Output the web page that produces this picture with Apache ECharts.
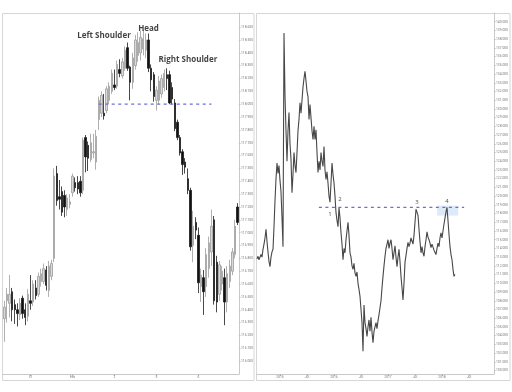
<!DOCTYPE html>
<html><head><meta charset="utf-8">
<script src="https://cdn.jsdelivr.net/npm/echarts@6/dist/echarts.min.js"></script>
<style>html,body{margin:0;padding:0;background:#fff}#c{width:512px;height:392px}</style>
</head><body><div id="c"></div>
<script>
// ---------- Left panel: intraday candles (head & shoulders) ----------
const candleOpen = [116.33,116.47,116.45,116.54,116.44,116.40,116.36,116.49,116.40,116.35,
  116.47,116.46,116.57,116.52,116.62,116.62,116.71,116.55,116.66,116.80,
  117.46,117.28,117.32,117.29,117.18,117.22,117.31,117.39,117.39,117.40,
  117.33,117.74,117.68,117.57,117.62,117.55,117.88,117.93,117.93,117.95,
  118.03,118.10,118.15,118.14,118.27,118.22,118.28,118.44,118.29,118.17,
  118.30,118.38,118.40,118.43,118.42,118.50,118.28,118.23,118.03,118.03,
  118.08,118.13,118.23,118.23,118.13,118.01,117.86,117.74,117.63,117.55,
  117.42,117.33,116.90,117.08,116.98,116.58,116.65,116.58,116.72,116.85,
  117.10,116.77,116.52,116.60,116.65,116.46,116.62,116.70,116.83,117.20];
const candleHigh = [116.47,116.57,116.67,116.57,116.48,116.45,116.49,116.51,116.45,116.56,
  116.67,116.63,116.63,116.69,116.72,116.76,116.74,116.78,116.79,117.50,
  117.52,117.41,117.36,117.33,117.30,117.30,117.46,117.43,117.44,117.44,
  117.74,117.76,117.71,117.77,117.77,117.80,118.06,118.10,118.08,118.14,
  118.17,118.27,118.27,118.34,118.35,118.36,118.45,118.48,118.30,118.40,
  118.54,118.56,118.57,118.58,118.55,118.55,118.31,118.25,118.14,118.22,
  118.23,118.27,118.28,118.26,118.17,118.04,117.88,117.76,117.65,117.58,
  117.50,117.35,117.17,117.12,117.04,116.72,116.71,116.88,116.97,117.18,
  117.13,116.82,116.78,116.74,116.72,116.74,116.79,116.88,117.10,117.23];
const candleLow = [116.15,116.30,116.34,116.31,116.29,116.27,116.32,116.33,116.28,116.31,
  116.40,116.43,116.48,116.50,116.58,116.60,116.55,116.50,116.63,116.77,
  117.21,117.18,117.13,117.12,117.13,117.19,117.28,117.32,117.30,117.28,
  117.30,117.47,117.48,117.55,117.58,117.49,117.80,117.90,117.88,117.93,
  118.00,118.08,118.11,118.12,118.21,118.20,118.26,118.26,118.03,118.12,
  118.27,118.33,118.34,118.38,118.36,118.25,118.10,118.02,117.95,118.00,
  118.05,118.10,118.11,118.00,118.00,117.79,117.72,117.60,117.45,117.46,
  117.30,116.86,116.77,116.95,116.53,116.46,116.36,116.50,116.65,116.74,
  116.44,116.38,116.47,116.55,116.28,116.38,116.57,116.67,116.80,117.06];
const candleClose = [116.42,116.52,116.52,116.40,116.40,116.37,116.45,116.37,116.34,116.52,
  116.45,116.60,116.51,116.66,116.68,116.72,116.59,116.74,116.76,117.44,
  117.25,117.26,117.16,117.20,117.27,117.24,117.44,117.35,117.34,117.31,
  117.72,117.59,117.58,117.70,117.63,117.75,118.03,118.07,117.91,118.12,
  118.14,118.24,118.13,118.31,118.24,118.33,118.42,118.28,118.17,118.36,
  118.50,118.48,118.52,118.51,118.50,118.28,118.19,118.06,118.11,118.18,
  118.20,118.24,118.20,118.01,118.04,117.81,117.74,117.62,117.53,117.51,
  117.33,116.89,117.05,117.02,116.61,116.67,116.54,116.83,116.92,117.05,
  116.47,116.46,116.75,116.70,116.46,116.68,116.74,116.85,117.05,117.08];
const sessionLabels = ['31', 'Feb', '2', '5', '6'];
const sessionLabelIndex = [10, 26, 42, 58, 74];
const leftPriceTicks = [116.0,116.1,116.2,116.3,116.4,116.5,116.6,116.7,116.8,116.9,
  117.0,117.1,117.2,117.3,117.4,117.5,117.6,117.7,117.8,117.9,118.0,118.1,118.2,118.3,118.4,118.5,118.6];
const neckline = 118.0, necklineFrom = 36, necklineTo = 79;
const patternNames = ['Left Shoulder', 'Head', 'Right Shoulder'];
const patternIndex = [38, 55, 70];
const patternPrice = [118.53, 118.585, 118.35];
const lastQuote = 117.084, quoteTimer = '01:26';

// ---------- Right panel: multi-year daily line ----------
const fxStartYear = 2014.574, fxStepYears = 1 / 54;
const fxRates = [112.8,113.1,112.7,112.6,113.3,113.0,113.9,114.5,115.2,116.2,
  114.8,113.6,112.5,111.9,113.0,113.6,113.9,116.5,119.5,122.0,
  123.8,122.6,123.5,121.8,120.5,117.5,114.2,138.7,131.5,127.5,
  124.0,127.5,129.6,126.0,124.2,120.4,122.5,125.0,123.5,122.7,
  125.0,127.5,128.8,130.7,129.5,131.0,132.5,133.5,134.3,133.2,
  132.0,131.4,128.8,130.5,129.0,127.5,126.5,128.0,126.5,127.6,
  125.0,122.7,124.0,123.0,125.0,124.0,123.4,125.7,123.0,121.9,
  122.8,121.5,120.0,119.3,121.5,123.8,122.5,121.5,120.0,118.1,
  117.2,116.5,118.7,117.5,115.8,114.5,112.7,114.0,113.5,115.0,
  116.0,117.0,115.5,113.5,113.0,112.0,111.6,112.3,111.2,110.8,
  111.3,110.0,109.3,108.5,107.0,105.5,102.2,107.5,105.5,104.8,
  103.9,105.0,105.8,104.5,106.1,104.4,103.2,104.5,105.0,105.5,
  104.8,105.7,106.4,106.2,108.0,109.5,110.8,112.0,113.1,114.0,
  114.5,115.0,114.0,114.6,115.0,114.0,112.7,113.5,114.3,113.0,
  111.9,113.0,113.9,112.5,110.8,109.5,108.1,110.0,112.4,113.2,
  114.0,114.7,114.2,114.6,115.2,115.0,114.5,115.5,117.0,118.5,
  118.7,117.8,116.2,114.8,113.5,114.2,113.5,113.1,114.2,115.0,
  115.9,115.3,115.0,114.6,114.1,114.5,114.3,113.8,113.6,113.3,
  114.0,114.6,114.2,115.2,115.8,115.2,116.0,116.8,117.5,118.2,
  118.7,117.2,115.6,114.2,113.3,112.7,111.6,110.8,111.0];
const fxYearTicks = [2015, 2015.5, 2016, 2016.5, 2017, 2017.5, 2018, 2018.5];
const rightPriceTicks = [100,101,102,103,104,105,106,107,108,109,110,111,112,113,114,115,116,117,118,119,
  120,121,122,123,124,125,126,127,128,129,130,131,132,133,134,135,136,137,138,139,140];
const fxResistance = 118.7, fxResFrom = 2015.72, fxResTo = 2018.41;
const touchLabels = ['1', '2', '3', '4'];
const touchYears = [2015.926, 2016.111, 2017.537, 2018.093];
const touchRates = [117.88, 119.6, 119.26, 119.37];
const zoneYears = [2017.91, 2018.30];
const zoneRates = [118.91, 117.77];
const fxLastQuote = 111.0;

// ---------- build ----------
const candleCats = candleOpen.map((_, i) => 'c' + i);
const labelAt = {};
sessionLabelIndex.forEach((idx, k) => { labelAt[idx] = sessionLabels[k]; });
const candleData = candleOpen.map((o, i) => [o, candleClose[i], candleLow[i], candleHigh[i]]);
const fxData = fxRates.map((v, i) => [fxStartYear + i * fxStepYears, v]);

const tickFont = { fontSize: 3.3, color: '#777', fontFamily: 'Roboto' };
const axisCol = '#c9c9c9';
const dashColor = '#6c6cdc';

const chart = echarts.init(document.getElementById('c'), null, { renderer: 'canvas' });
chart.setOption({
  animation: false,
  backgroundColor: '#ffffff',
  graphic: [
    { type: 'rect', shape: { x: 2.5, y: 13.5, width: 251.5, height: 367 }, style: { fill: 'none', stroke: '#d6d6d6', lineWidth: 1 }, silent: true },
    { type: 'rect', shape: { x: 256.5, y: 13.5, width: 253.5, height: 367 }, style: { fill: 'none', stroke: '#d6d6d6', lineWidth: 1 }, silent: true }
  ],
  grid: [
    { left: 3, top: 13, width: 236, height: 361 },
    { left: 257, top: 13, width: 237, height: 361 }
  ],
  xAxis: [
    {
      type: 'category', gridIndex: 0, data: candleCats, boundaryGap: true,
      axisLine: { lineStyle: { color: axisCol } },
      axisTick: { show: true, alignWithLabel: true, length: 2, interval: (i) => labelAt[i] !== undefined, lineStyle: { color: '#bbb' } },
      axisLabel: Object.assign({ interval: (i) => labelAt[i] !== undefined, formatter: (v, i) => labelAt[i] || '', margin: 2 }, tickFont),
      splitLine: { show: false }
    },
    {
      type: 'value', gridIndex: 1, min: fxStartYear, max: fxStartYear + 237 / 54,
      axisLine: { lineStyle: { color: axisCol } },
      axisTick: { show: true, length: 2, customValues: fxYearTicks, lineStyle: { color: '#bbb' } },
      axisLabel: Object.assign({ customValues: fxYearTicks, formatter: (v) => Number.isInteger(v) ? String(v) : 'Jul', margin: 2 }, tickFont),
      splitLine: { show: false }
    }
  ],
  yAxis: [
    {
      type: 'value', gridIndex: 0, position: 'right', min: 115.9, max: 118.71, scale: true,
      axisLine: { show: true, lineStyle: { color: axisCol } },
      axisTick: { show: true, length: 1.5, customValues: leftPriceTicks, lineStyle: { color: '#bbb' } },
      axisLabel: Object.assign({ customValues: leftPriceTicks, formatter: (v) => v.toFixed(3), margin: 2 }, tickFont),
      splitLine: { show: false }
    },
    {
      type: 'value', gridIndex: 1, position: 'right', min: 99.6, max: 141.0, scale: true,
      axisLine: { show: true, lineStyle: { color: axisCol } },
      axisTick: { show: true, length: 1.5, customValues: rightPriceTicks, lineStyle: { color: '#bbb' } },
      axisLabel: Object.assign({ customValues: rightPriceTicks, formatter: (v) => v.toFixed(3), margin: 2 }, tickFont),
      splitLine: { show: false }
    }
  ],
  series: [
    {
      type: 'candlestick', xAxisIndex: 0, yAxisIndex: 0, data: candleData, barWidth: 1.9,
      itemStyle: { color: '#d9d9d9', borderColor: '#9c9c9c', color0: '#111111', borderColor0: '#1a1a1a', borderWidth: 0.8 },
      markLine: {
        silent: true, symbol: ['none', 'none'],
        data: [
          { yAxis: lastQuote, lineStyle: { opacity: 0, width: 0 },
            label: { show: true, position: 'end', distance: 0.5, formatter: '{p|' + lastQuote.toFixed(3) + '}\n{t|' + quoteTimer + '}',
              rich: { p: { backgroundColor: '#111', color: '#fff', fontSize: 3.3, padding: [0.8, 1.2], fontFamily: 'Roboto' },
                      t: { backgroundColor: '#111', color: '#fff', fontSize: 3.3, padding: [0.8, 1.2], fontFamily: 'Roboto', align: 'right' } } } }
        ]
      }
    },
    {
      type: 'line', xAxisIndex: 0, yAxisIndex: 0, silent: true, showSymbol: false, symbol: 'none',
      data: [[necklineFrom, neckline], [necklineTo, neckline]],
      lineStyle: { color: dashColor, type: [3, 3.5], width: 1.2 }, z: 3
    },
    {
      type: 'scatter', xAxisIndex: 0, yAxisIndex: 0, symbolSize: 0.1, silent: true,
      data: patternNames.map((n, k) => ({ name: n, value: [patternIndex[k], patternPrice[k]] })),
      label: { show: true, position: 'inside', formatter: (p) => p.name, fontFamily: 'Open Sans', fontWeight: 'bold', fontSize: 8, color: '#111' }
    },
    {
      type: 'line', xAxisIndex: 1, yAxisIndex: 1, data: fxData, showSymbol: false, symbol: 'none',
      lineStyle: { color: '#474747', width: 1.1 },
      markLine: {
        silent: true, symbol: ['none', 'none'],
        data: [
          { yAxis: fxLastQuote, lineStyle: { opacity: 0, width: 0 },
            label: { show: true, position: 'end', distance: 0.5, formatter: fxLastQuote.toFixed(3),
              backgroundColor: '#111', color: '#fff', fontSize: 3.3, padding: [0.8, 1.5], fontFamily: 'Roboto' } }
        ]
      },
      markArea: {
        silent: true,
        itemStyle: { color: 'rgba(198,220,246,0.6)' },
        data: [[{ coord: [zoneYears[0], zoneRates[0]] }, { coord: [zoneYears[1], zoneRates[1]] }]]
      }
    },
    {
      type: 'line', xAxisIndex: 1, yAxisIndex: 1, silent: true, showSymbol: false, symbol: 'none',
      data: [[fxResFrom, fxResistance], [fxResTo, fxResistance]],
      lineStyle: { color: dashColor, type: [3, 3.5], width: 1.2 }, z: 3
    },
    {
      type: 'scatter', xAxisIndex: 1, yAxisIndex: 1, symbolSize: 0.1, silent: true,
      data: touchLabels.map((n, k) => ({ name: n, value: [touchYears[k], touchRates[k]] })),
      label: { show: true, position: 'inside', formatter: (p) => p.name, fontFamily: 'Open Sans', fontSize: 6, color: '#222' }
    }
  ]
});
</script>
</body></html>
